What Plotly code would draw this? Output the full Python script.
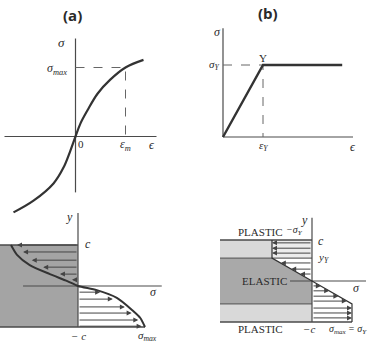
import plotly.graph_objects as go

W, H = 371, 342

# ---------------- data ----------------
# (a) nonlinear stress-strain curve (normalised: eps/eps_m, sigma/sigma_max)
eps_a = [-1.24, -0.84, -0.44, -0.24, -0.10, 0.0, 0.10, 0.24, 0.44, 0.69, 1.0, 1.36]
sig_a = [-1.10, -0.93, -0.68, -0.45, -0.20, 0.0, 0.19, 0.38, 0.62, 0.82, 1.0, 1.11]
eps_m, sig_max = 1.0, 1.0

# (b) elastic-perfectly-plastic curve (normalised: eps/eps_Y, sigma/sigma_Y)
eps_b = [0.0, 1.0, 2.98]
sig_b = [0.0, 1.0, 1.0]
eps_Y, sig_Y = 1.0, 1.0

# (a) stress distribution over the depth (y/c, sigma/sigma_max)
prof_a_y = [1.0, 0.76, 0.51, 0.29, 0.12, 0.0, -0.10, -0.29, -0.59, -0.78, -1.0]
prof_a_s = [-1.0, -0.91, -0.72, -0.42, -0.16, 0.0, 0.28, 0.58, 0.81, 0.93, 1.0]
arr_a_y = [1.0, 0.83, 0.63, 0.46, 0.29, 0.15, -0.15, -0.32, -0.51, -0.66, -0.83, -0.98]
arr_a_s = [-0.91, -0.82, -0.69, -0.52, -0.27, -0.09, 0.33, 0.52, 0.70, 0.80, 0.90, 0.95]

# (b) stress distribution over the depth (y/c, sigma/sigma_Y)
c_b, yY_b = 1.0, 0.56
prof_b_y = [1.0, 0.56, 0.0, -0.56, -1.0]
prof_b_s = [-1.0, -1.0, 0.0, 1.0, 1.0]
arr_b_y = [0.93, 0.80, 0.68, 0.44, 0.29, 0.17, -0.12, -0.24, -0.37, -0.49, -0.66, -0.78, -0.90]
arr_b_s = [-1.0, -1.0, -1.0, -0.78, -0.52, -0.30, 0.22, 0.43, 0.66, 0.87, 1.0, 1.0, 1.0]

# ---------------- layout helpers ----------------
def place(box, origin, scale):
    (x0, x1), (y0, y1) = box
    ox, oy = origin
    sx, sy = scale
    xd = [x0 / W, x1 / W]
    yd = [1 - y1 / H, 1 - y0 / H]
    xr = [(x0 - ox) / sx, (x1 - ox) / sx]
    yr = [(oy - y1) / sy, (oy - y0) / sy]
    return xd, xr, yd, yr

panels = {
    1: place(((0, 185), (0, 232)), (75.5, 136.5), (50, 69)),
    2: place(((186, 371), (0, 200)), (223, 137), (40, 72)),
    3: place(((0, 185), (200, 342)), (78, 286), (67, 41)),
    4: place(((186, 371), (200, 342)), (312, 281), (40, 41)),
}

fig = go.Figure()
layout = dict(width=W, height=H, margin=dict(l=0, r=0, t=0, b=0),
              paper_bgcolor="white", plot_bgcolor="rgba(0,0,0,0)", showlegend=False)
for k, (xd, xr, yd, yr) in panels.items():
    sfx = "" if k == 1 else str(k)
    layout["xaxis" + sfx] = dict(domain=xd, range=xr, visible=False, fixedrange=True,
                                 anchor="y" + sfx)
    layout["yaxis" + sfx] = dict(domain=yd, range=yr, visible=False, fixedrange=True,
                                 anchor="x" + sfx)
fig.update_layout(**layout)

AX = "#4a4a4a"
CURVE = "#333333"
SERIF = "Liberation Serif"

def line(k, xs, ys, color=AX, width=1.2, dash=None, shape="linear", smoothing=1.0):
    sfx = "" if k == 1 else str(k)
    ln = dict(color=color, width=width, dash=dash, shape=shape)
    if shape == "spline":
        ln["smoothing"] = smoothing
    fig.add_trace(go.Scatter(x=xs, y=ys, mode="lines", xaxis="x" + sfx, yaxis="y" + sfx,
                             line=ln, hoverinfo="skip"))

def poly(k, xs, ys, color):
    sfx = "" if k == 1 else str(k)
    fig.add_trace(go.Scatter(x=xs, y=ys, mode="lines", xaxis="x" + sfx, yaxis="y" + sfx,
                             fill="toself", fillcolor=color, line=dict(width=0),
                             hoverinfo="skip"))

def text(k, x, y, s, size=12, italic=True, family=SERIF, xanchor="center", color="#2a2a2a"):
    sfx = "" if k == 1 else str(k)
    if italic:
        s = "<i>" + s + "</i>"
    fig.add_annotation(x=x, y=y, xref="x" + sfx, yref="y" + sfx, text=s, showarrow=False,
                       font=dict(family=family, size=size, color=color), xanchor=xanchor,
                       yanchor="middle")

def arrow(k, x_tail, y_tail, x_tip, y_tip):
    sfx = "" if k == 1 else str(k)
    fig.add_annotation(x=x_tip, y=y_tip, ax=x_tail, ay=y_tail, xref="x" + sfx, yref="y" + sfx,
                       axref="x" + sfx, ayref="y" + sfx, text="", showarrow=True,
                       arrowhead=2, arrowsize=1.0, arrowwidth=1.0, arrowcolor="#444")

# ---------------- panel (a) top ----------------
line(1, [-1.42, 1.62], [0, 0])
line(1, [0, 0], [-0.81, 1.42])
line(1, [0, eps_m, eps_m], [sig_max, sig_max, 0], color="#666", width=1, dash="dash")
line(1, eps_a, sig_a, color=CURVE, width=2.2, shape="spline", smoothing=1.0)
text(1, -0.07, 1.76, "<b>(a)</b>", size=15, italic=False, family="Open Sans")
text(1, -0.28, 1.36, "σ", size=13)
text(1, -0.13, 0.98, "σ<sub>max</sub>", size=12, xanchor="right")
text(1, 0.11, -0.11, "0", size=11, italic=False)
text(1, eps_m, -0.12, "ε<sub>m</sub>", size=12)
text(1, 1.53, -0.12, "ϵ", size=12)

# ---------------- panel (b) top ----------------
line(2, [0, 3.25], [0, 0])
line(2, [0, 0], [0, 1.51])
line(2, [0, eps_Y, eps_Y], [sig_Y, sig_Y, 0], color="#666", width=1, dash="dash")
line(2, eps_b, sig_b, color=CURVE, width=2.4)
text(2, 1.12, 1.72, "<b>(b)</b>", size=15, italic=False, family="Open Sans")
text(2, -0.15, 1.46, "σ", size=12)
text(2, -0.05, 1.0, "σ<sub>Y</sub>", size=11, xanchor="right")
text(2, eps_Y, 1.10, "Y", size=11, italic=False)
text(2, eps_Y, -0.12, "ε<sub>Y</sub>", size=11)
text(2, 3.25, -0.14, "ϵ", size=12)

# ---------------- panel (a) bottom ----------------
left_a = -1.17
poly(3, [left_a, 0, 0, left_a], [1, 1, -1, -1], "#a4a4a4")
line(3, [left_a, 0], [1, 1], width=1.4)
line(3, [left_a, prof_a_s[-1]], [-1, -1], width=1.4)
line(3, [-0.82, 1.25], [0, 0])
line(3, [0, 0], [-1, 1.78])
for ys, ss in zip(arr_a_y, arr_a_s):
    arrow(3, 0, ys, ss, ys)
line(3, prof_a_s, prof_a_y, color=CURVE, width=2.0, shape="spline", smoothing=0.7)
text(3, -0.12, 1.68, "y", size=12)
text(3, 0.08, 1.02, "c", size=12, xanchor="left")
text(3, 1.12, -0.15, "σ", size=12)
text(3, 0.0, -1.22, "− c", size=11)
text(3, 1.03, -1.22, "σ<sub>max</sub>", size=11)

# ---------------- panel (b) bottom ----------------
left_b = -2.3
poly(4, [left_b, -1, -1, left_b], [c_b, c_b, yY_b, yY_b], "#d9d9d9")
poly(4, [-1, 0, 0, -1], [c_b, c_b, yY_b, yY_b], "#ececec")
poly(4, [left_b, -1, 0, 0, left_b], [yY_b, yY_b, 0, -yY_b, -yY_b], "#a9a9a9")
poly(4, [left_b, 0, 0, left_b], [-yY_b, -yY_b, -c_b, -c_b], "#d9d9d9")
line(4, [left_b, 0], [c_b, c_b], width=1.4)
line(4, [left_b, 0], [yY_b, yY_b], width=1.2, color="#666")
line(4, [left_b, 0], [-yY_b, -yY_b], width=1.2, color="#666")
line(4, [left_b, 1], [-c_b, -c_b], width=1.4)
line(4, [-0.55, 1.35], [0, 0])
line(4, [0, 0], [-c_b, 1.54])
for ys, ss in zip(arr_b_y, arr_b_s):
    arrow(4, 0, ys, ss, ys)
line(4, prof_b_s, prof_b_y, color=CURVE, width=1.2)
text(4, -1.3, 1.2, "PLASTIC", size=11, italic=False)
text(4, -0.45, 1.24, "−σ<sub>Y</sub>", size=10)
text(4, -0.18, 1.5, "y", size=12)
text(4, 0.1, 0.98, "c", size=12, xanchor="left")
text(4, 0.1, 0.55, "y<sub>Y</sub>", size=11, xanchor="left")
text(4, -1.18, 0.0, "ELASTIC", size=11, italic=False)
text(4, 1.12, -0.16, "σ", size=12)
text(4, -1.28, -1.17, "PLASTIC", size=11, italic=False)
text(4, -0.08, -1.16, "−c", size=11)
text(4, 0.38, -1.18, "σ<sub>max</sub> = σ<sub>Y</sub>", size=10, xanchor="left")

fig.write_html("out.html")
